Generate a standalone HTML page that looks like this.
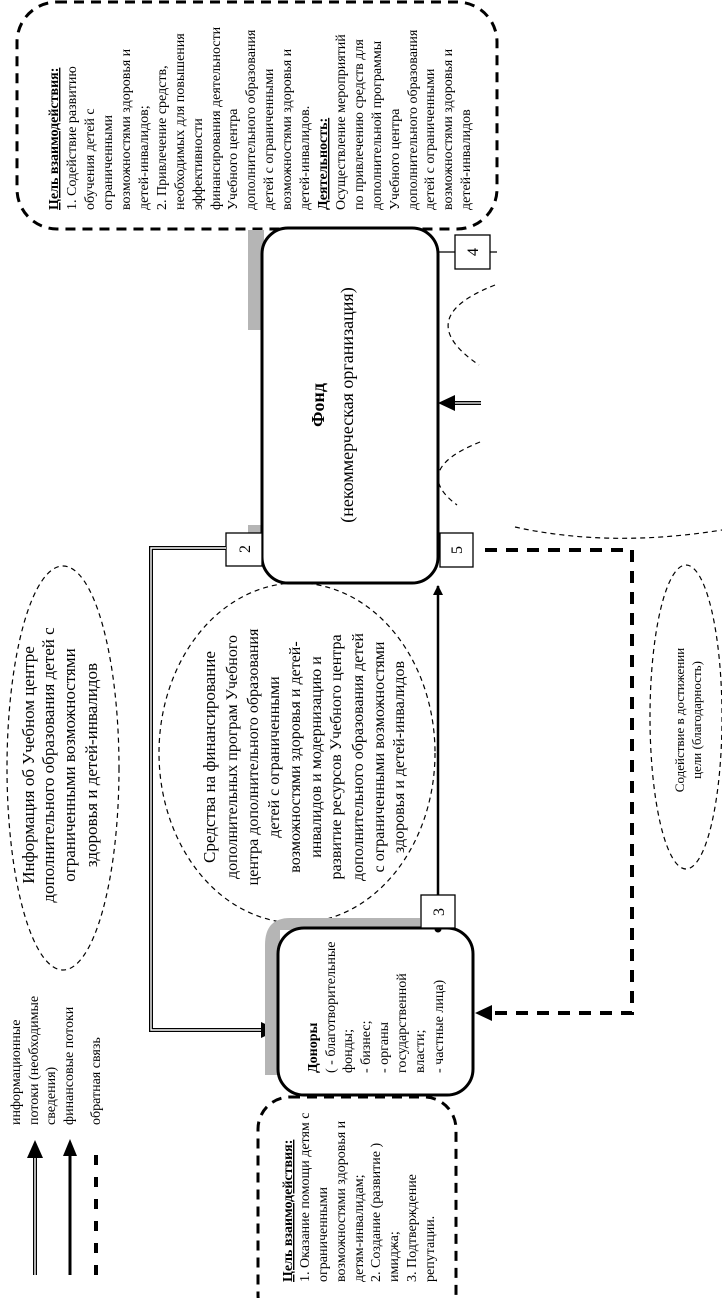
<!DOCTYPE html>
<html><head><meta charset="utf-8"><style>
html,body{margin:0;padding:0;background:#fff;}
svg{display:block;}
text{font-family:"Liberation Serif",serif;fill:#000;}
</style></head><body>
<svg width="722" height="1298" viewBox="0 0 722 1298" xmlns="http://www.w3.org/2000/svg">
<defs>
<marker id="ah" markerWidth="10" markerHeight="10" refX="9" refY="5" orient="auto" markerUnits="userSpaceOnUse"><path d="M0,0 L10,5 L0,10 z" fill="#000"/></marker>
<marker id="ahb" markerWidth="16" markerHeight="16" refX="15" refY="8" orient="auto" markerUnits="userSpaceOnUse"><path d="M0,0 L16,8 L0,16 z" fill="#000"/></marker>
</defs>

<!-- Top dashed box -->
<rect x="17" y="2" width="480" height="227" rx="40" fill="none" stroke="#000" stroke-width="3" stroke-dasharray="10,7"/>
<g font-size="14">
<text transform="translate(58,210) rotate(-90)" font-weight="bold" text-decoration="underline">Цель взаимодействия:</text>
<text transform="translate(76,210) rotate(-90)">1. Содействие развитию</text>
<text transform="translate(94,210) rotate(-90)">обучения детей с</text>
<text transform="translate(112,210) rotate(-90)">ограниченными</text>
<text transform="translate(130,210) rotate(-90)">возможностями здоровья и</text>
<text transform="translate(148,210) rotate(-90)">детей-инвалидов;</text>
<text transform="translate(166,210) rotate(-90)">2. Привлечение средств,</text>
<text transform="translate(184,210) rotate(-90)">необходимых для повышения</text>
<text transform="translate(202,210) rotate(-90)">эффективности</text>
<text transform="translate(220,210) rotate(-90)">финансирования  деятельности</text>
<text transform="translate(237,210) rotate(-90)">Учебного центра</text>
<text transform="translate(255,210) rotate(-90)">дополнительного образования</text>
<text transform="translate(273,210) rotate(-90)">детей с ограниченными</text>
<text transform="translate(291,210) rotate(-90)">возможностями здоровья и</text>
<text transform="translate(309,210) rotate(-90)">детей-инвалидов.</text>
<text transform="translate(327,210) rotate(-90)" font-weight="bold" text-decoration="underline">Деятельность:</text>
<text transform="translate(345,210) rotate(-90)">Осуществление мероприятий</text>
<text transform="translate(363,210) rotate(-90)">по привлечению средств для</text>
<text transform="translate(381,210) rotate(-90)">дополнительной программы</text>
<text transform="translate(399,210) rotate(-90)">Учебного центра</text>
<text transform="translate(417,210) rotate(-90)">дополнительного образования</text>
<text transform="translate(434,210) rotate(-90)">детей с ограниченными</text>
<text transform="translate(452,210) rotate(-90)">возможностями здоровья и</text>
<text transform="translate(470,210) rotate(-90)">детей-инвалидов</text>
</g>

<!-- Info ellipse -->
<ellipse cx="63" cy="768" rx="56" ry="202" fill="none" stroke="#000" stroke-width="1.2" stroke-dasharray="5,4"/>
<g font-size="17" text-anchor="middle">
<text transform="translate(34,765) rotate(-90)">Информация об Учебном центре</text>
<text transform="translate(54,765) rotate(-90)">дополнительного образования детей с</text>
<text transform="translate(75,765) rotate(-90)">ограниченными возможностями</text>
<text transform="translate(97,765) rotate(-90)">здоровья и детей-инвалидов</text>
</g>

<!-- Fund gray shadow -->
<rect x="248" y="230" width="16" height="100" fill="#b5b5b5"/>
<rect x="248" y="525" width="14" height="10" fill="#b5b5b5"/>
<!-- Fund box -->
<rect x="262" y="228" width="176" height="355" rx="26" fill="#fff" stroke="#000" stroke-width="3"/>
<text transform="translate(324,405) rotate(-90)" font-size="18" font-weight="bold" text-anchor="middle">Фонд</text>
<text transform="translate(353,405) rotate(-90)" font-size="18" text-anchor="middle">(некоммерческая организация)</text>

<!-- Box 2 -->
<rect x="226" y="533" width="36" height="33" fill="#fff" stroke="#000" stroke-width="1.3"/>
<text transform="translate(250,549) rotate(-90)" font-size="16" text-anchor="middle">2</text>
<!-- Box 4 -->
<line x1="438" y1="252" x2="497" y2="252" stroke="#000" stroke-width="1.3"/>
<rect x="455" y="235" width="35" height="34" fill="#fff" stroke="#000" stroke-width="1.3"/>
<text transform="translate(478,252) rotate(-90)" font-size="16" text-anchor="middle">4</text>
<!-- Box 5 -->
<rect x="440" y="533" width="33" height="34" fill="#fff" stroke="#000" stroke-width="1.3"/>
<text transform="translate(462,550) rotate(-90)" font-size="16" text-anchor="middle">5</text>

<!-- Parabolas -->
<path d="M495,285 Q410,318 479,365" fill="none" stroke="#000" stroke-width="1.2" stroke-dasharray="5,4"/>
<path d="M480,442 Q410,470 457,505" fill="none" stroke="#000" stroke-width="1.2" stroke-dasharray="5,4"/>
<!-- double arrow into fund -->
<line x1="481" y1="403" x2="452" y2="403" stroke="#000" stroke-width="4"/>
<line x1="482" y1="403" x2="450" y2="403" stroke="#fff" stroke-width="1.3"/>
<path d="M438,403 L455,395 L455,411 z" fill="#000"/>

<!-- big arc -->
<path d="M515,527 Q610,548 722,530" fill="none" stroke="#000" stroke-width="1.2" stroke-dasharray="5,4"/>
<!-- Sodeistvie ellipse -->
<ellipse cx="686" cy="717" rx="36" ry="152" fill="none" stroke="#000" stroke-width="1.2" stroke-dasharray="5,4"/>
<g font-size="13" text-anchor="middle">
<text transform="translate(684,720) rotate(-90)">Содействие в достижении</text>
<text transform="translate(701,720) rotate(-90)">цели (благодарность)</text>
</g>

<!-- Sredstva ellipse -->
<ellipse cx="297" cy="753" rx="138" ry="170" fill="none" stroke="#000" stroke-width="1.2" stroke-dasharray="5,4"/>
<g font-size="16" text-anchor="middle">
<text transform="translate(215,757) rotate(-90)" font-size="17">Средства на финансирование</text>
<text transform="translate(237,757) rotate(-90)">дополнительных програм Учебного</text>
<text transform="translate(258,757) rotate(-90)">центра дополнительного образования</text>
<text transform="translate(279,757) rotate(-90)">детей с ограниченными</text>
<text transform="translate(300,757) rotate(-90)">возможностями здоровья и детей-</text>
<text transform="translate(321,757) rotate(-90)">инвалидов и модернизацию и</text>
<text transform="translate(341,757) rotate(-90)">развитие ресурсов Учебного центра</text>
<text transform="translate(363,757) rotate(-90)">дополнительного образования детей</text>
<text transform="translate(384,757) rotate(-90)">с ограниченными  возможностями</text>
<text transform="translate(404,757) rotate(-90)">здоровья и детей-инвалидов</text>
</g>

<!-- solid line box3 -> fund -->
<line x1="438" y1="895" x2="438" y2="586" stroke="#000" stroke-width="2.5" marker-end="url(#ah)"/>

<!-- double line box2 -> donors -->
<path d="M226,548 L151,548 L151,1030 L266,1030" fill="none" stroke="#000" stroke-width="4"/>
<path d="M226,548 L151,548 L151,1030 L266,1030" fill="none" stroke="#fff" stroke-width="1.4"/>
<path d="M278,1030 L261,1022 L261,1038 z" fill="#000"/>

<!-- Donors gray shadow -->
<path d="M420,918 L290,918 Q265,918 265,945 L265,1075 L280,1075 L280,930 L420,930 z" fill="#b5b5b5"/>
<!-- Donors box -->
<rect x="278" y="928" width="195" height="167" rx="26" fill="#fff" stroke="#000" stroke-width="3"/>
<circle cx="438" cy="929" r="3.5" fill="#000"/>
<!-- Box 3 -->
<rect x="421" y="895" width="34" height="33" fill="#fff" stroke="#000" stroke-width="1.3"/>
<text transform="translate(444,912) rotate(-90)" font-size="16" text-anchor="middle">3</text>
<g font-size="14">
<text transform="translate(317,1073) rotate(-90)" font-weight="bold">Доноры</text>
<text transform="translate(335,1073) rotate(-90)">( - благотворительные</text>
<text transform="translate(352,1073) rotate(-90)">фонды;</text>
<text transform="translate(370,1073) rotate(-90)">- бизнес;</text>
<text transform="translate(388,1073) rotate(-90)">- органы</text>
<text transform="translate(406,1073) rotate(-90)">государственной</text>
<text transform="translate(424,1073) rotate(-90)">власти;</text>
<text transform="translate(443,1073) rotate(-90)">- частные лица)</text>
</g>

<!-- feedback thick dashed -->
<path d="M485,550 L632,550 L632,1013 L492,1013" fill="none" stroke="#000" stroke-width="4" stroke-dasharray="12,9"/>
<path d="M475,1013 L492,1005 L492,1021 z" fill="#000"/>

<!-- Donors dashed box -->
<rect x="258" y="1097" width="198" height="230" rx="32" fill="none" stroke="#000" stroke-width="3" stroke-dasharray="10,7"/>
<g font-size="14">
<text transform="translate(292,1282) rotate(-90)" font-weight="bold" text-decoration="underline">Цель взаимодействия:</text>
<text transform="translate(309,1282) rotate(-90)">1. Оказание помощи детям с</text>
<text transform="translate(327,1282) rotate(-90)">ограниченными</text>
<text transform="translate(345,1282) rotate(-90)">возможностями здоровья и</text>
<text transform="translate(363,1282) rotate(-90)">детям-инвалидам;</text>
<text transform="translate(380,1282) rotate(-90)">2. Создание (развитие )</text>
<text transform="translate(398,1282) rotate(-90)">имиджа;</text>
<text transform="translate(416,1282) rotate(-90)">3. Подтверждение</text>
<text transform="translate(434,1282) rotate(-90)">репутации.</text>
</g>

<!-- Legend -->
<line x1="35" y1="1275" x2="35" y2="1152" stroke="#000" stroke-width="4"/>
<line x1="35" y1="1276" x2="35" y2="1150" stroke="#fff" stroke-width="1.4"/>
<path d="M35,1140 L27,1158 L43,1158 z" fill="#000"/>
<line x1="70" y1="1275" x2="70" y2="1150" stroke="#000" stroke-width="3"/>
<path d="M70,1139 L63,1156 L77,1156 z" fill="#000"/>
<line x1="96" y1="1275" x2="96" y2="1153" stroke="#000" stroke-width="4" stroke-dasharray="10,12"/>
<g font-size="14">
<text transform="translate(20,1125) rotate(-90)">информационные</text>
<text transform="translate(38,1125) rotate(-90)">потоки (необходимые</text>
<text transform="translate(55,1125) rotate(-90)">сведения)</text>
<text transform="translate(73,1125) rotate(-90)">финансовые потоки</text>
<text transform="translate(100,1125) rotate(-90)">обратная связь</text>
</g>
</svg>
</body></html>
